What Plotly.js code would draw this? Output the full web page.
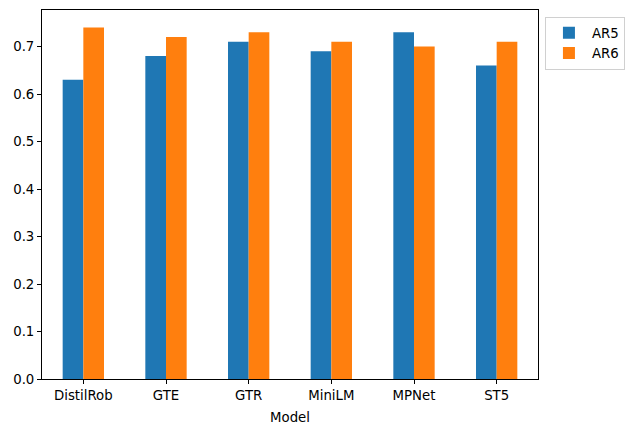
<!DOCTYPE html>
<html>
<head>
<meta charset="utf-8">
<script src="https://cdn.plot.ly/plotly-3.0.1.min.js"></script>
<style>html,body{margin:0;padding:0;background:#fff;}#chart{width:632px;height:432px;}</style>
</head>
<body>
<div id="chart"></div>
<script>
const models = ["DistilRob", "GTE", "GTR", "MiniLM", "MPNet", "ST5"];
const ar5 = [0.63, 0.68, 0.71, 0.69, 0.73, 0.66];
const ar6 = [0.74, 0.72, 0.73, 0.71, 0.70, 0.71];
const yTicks = [0, 0.1, 0.2, 0.3, 0.4, 0.5, 0.6, 0.7];

const data = [
  {type: "bar", name: "AR5", x: models, y: ar5, marker: {color: "#1f77b4", line: {width: 0}}},
  {type: "bar", name: "AR6", x: models, y: ar6, marker: {color: "#ff7f0e", line: {width: 0}}}
];
const layout = {
  width: 632, height: 432,
  margin: {l: 42, r: 94, t: 10, b: 53, autoexpand: false},
  paper_bgcolor: "#fff", plot_bgcolor: "#fff",
  font: {family: "DejaVu Sans", size: 13.3, color: "#000"},
  barmode: "group", bargap: 0.5, bargroupgap: 0,
  showlegend: true,
  legend: {x: 1.014, xanchor: "left", y: 0.982, yanchor: "top",
           bordercolor: "#d0d0d0", borderwidth: 1, font: {size: 13.3},
           tracegroupgap: 0, itemwidth: 36},
  xaxis: {
    range: [-0.5, 5.5], showline: true, linecolor: "#000", linewidth: 1, mirror: true,
    ticks: "outside", ticklen: 4, tickcolor: "#000", showgrid: false, zeroline: false,
    title: {text: "Model", font: {size: 13.3}, standoff: 10}
  },
  yaxis: {
    range: [0, 0.777], showline: true, linecolor: "#000", linewidth: 1, mirror: true,
    ticks: "outside", ticklen: 4, tickcolor: "#000", showgrid: false, zeroline: false,
    tickvals: yTicks, ticktext: yTicks.map(v => v.toFixed(1))
  }
};
Plotly.newPlot("chart", data, layout, {displayModeBar: false});
</script>
</body>
</html>
